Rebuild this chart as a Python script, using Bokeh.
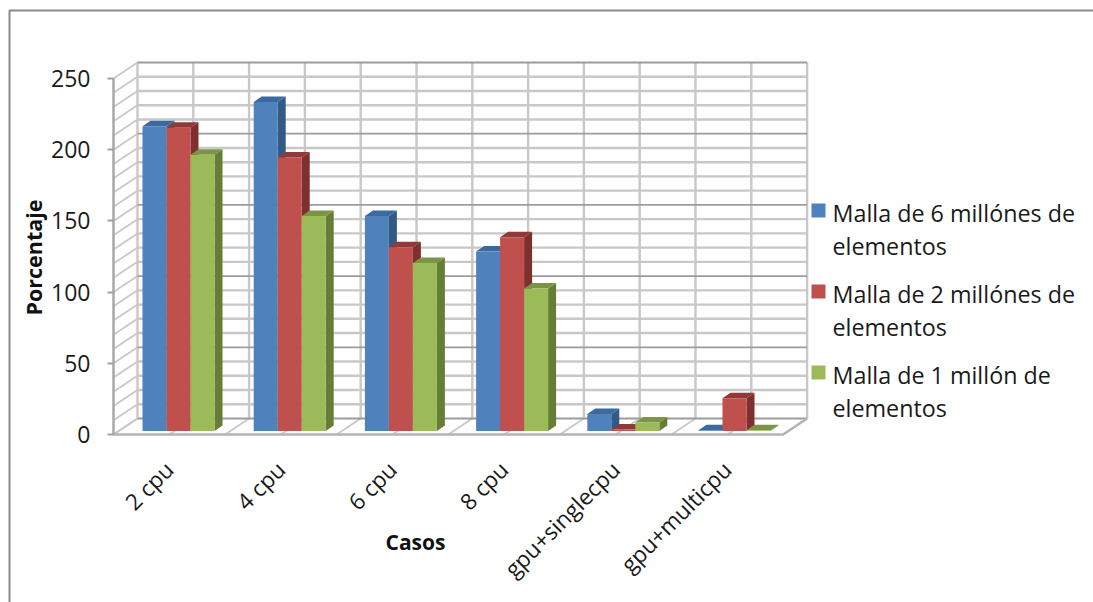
from bokeh.core.properties import value
from bokeh.embed import file_html
from bokeh.models import FixedTicker
from bokeh.plotting import figure
from bokeh.resources import INLINE
import math

# Chart values
categories = ["2 cpu", "4 cpu", "6 cpu", "8 cpu", "gpu+singlecpu", "gpu+multicpu"]
malla_6 = [214, 231, 151, 126, 12, 0.5]
malla_2 = [213, 192, 129, 136, 1, 23]
malla_1 = [194, 151, 118, 100, 6, 0.5]
y_ticks = [0, 50, 100, 150, 200, 250]
legend_lines = [
    ["Malla de 6 millónes de", "elementos"],
    ["Malla de 2 millónes de", "elementos"],
    ["Malla de 1 millón de", "elementos"],
]

# Colours per series: front face, side face, top face
front_colors = ["#4f81bd", "#c0504d", "#9bbb59"]
side_colors = ["#335a85", "#7f2f2d", "#667d35"]
top_colors = ["#3d6a9e", "#8f3a38", "#7b9446"]

# Canvas geometry: the frame fills the page, the origin of the data sits at the front corner
W, H = 1093, 602
ORIGIN_X, ORIGIN_Y = 113, 434
PX_PER_CAT, PX_PER_VAL = 111.6, 1.424


def px(x):
    return (x - ORIGIN_X) / PX_PER_CAT


def py(y):
    return (ORIGIN_Y - y) / PX_PER_VAL


p = figure(
    width=W, height=H, output_backend="svg", toolbar_location=None,
    x_range=(px(0), px(W)), y_range=(py(H), py(0)),
    min_border=0, min_border_left=0, min_border_right=0, min_border_top=0, min_border_bottom=0,
    outline_line_color=None, background_fill_color="white", border_fill_color="white",
)
p.grid.visible = False

# Depth of the box (wall against front edge) and of each bar, in data units
wall_dx, wall_dy = 24 / PX_PER_CAT, 16 / PX_PER_VAL
bar_dx, bar_dy = 8 / PX_PER_CAT, 5.5 / PX_PER_VAL
n = len(categories)
half_steps = [i / 2 for i in range(2 * n + 1)]
minor_vals = list(range(0, 251, 10))

LIGHT, DARK = "#c8c8c8", "#9c9c9c"

# Floor: diagonal lines running back from the front edge
p.segment(half_steps, [0] * len(half_steps),
          [h + wall_dx for h in half_steps], [wall_dy] * len(half_steps),
          line_color=LIGHT, line_width=1.8)

# Left wall: diagonals at every 10 units
p.segment([0] * len(minor_vals), minor_vals,
          [wall_dx] * len(minor_vals), [v + wall_dy for v in minor_vals],
          line_color=LIGHT, line_width=1.8)

# Back wall: verticals, then minor and major horizontals
p.segment([h + wall_dx for h in half_steps], [wall_dy] * len(half_steps),
          [h + wall_dx for h in half_steps], [250 + wall_dy] * len(half_steps),
          line_color=LIGHT, line_width=2.4)
minor_only = [v for v in minor_vals if v % 50 != 0]
p.segment([wall_dx] * len(minor_only), [v + wall_dy for v in minor_only],
          [n + wall_dx] * len(minor_only), [v + wall_dy for v in minor_only],
          line_color=LIGHT, line_width=2.4)
p.segment([wall_dx] * len(y_ticks), [v + wall_dy for v in y_ticks],
          [n + wall_dx] * len(y_ticks), [v + wall_dy for v in y_ticks],
          line_color=DARK, line_width=1.8)

# Floor edges
p.line([0, n, n + wall_dx], [0, 0, wall_dy], line_color="#b4b4b4", line_width=2.5)

# Bars: each one is a front face with a side and a top parallelogram
bar_w = 24 / PX_PER_CAT
bar_step = 111.2 / PX_PER_CAT
first_offset = (142 - ORIGIN_X) / PX_PER_CAT
base = (ORIGIN_Y - 430.5) / PX_PER_VAL
for c in range(n):
    for s, series in enumerate([malla_6, malla_2, malla_1]):
        x0 = c * bar_step + first_offset + s * bar_w
        x1 = x0 + bar_w
        top = series[c] + base
        p.patch([x1, x1 + bar_dx, x1 + bar_dx, x1], [base, base + bar_dy, top + bar_dy, top],
                fill_color=side_colors[s], line_color=None)
        p.patch([x0, x0 + bar_dx, x1 + bar_dx, x1], [top, top + bar_dy, top + bar_dy, top],
                fill_color=top_colors[s], line_color=None)
        p.quad(left=x0, right=x1, bottom=base, top=top,
               fill_color=front_colors[s], line_color=None)

# Value axis, pinned to the front left corner
TICK_FONT = "Open Sans"
yax = p.yaxis[0]
yax.fixed_location = 0
yax.bounds = (0, 250)
yax.ticker = FixedTicker(ticks=y_ticks)
yax.axis_line_color = "#a8a8a8"
yax.axis_line_width = 2.5
yax.major_tick_line_color = "#a0a0a0"
yax.major_tick_line_width = 2
yax.major_tick_in = 0
yax.major_tick_out = 6
yax.minor_tick_line_color = None
yax.major_label_standoff = 17
yax.major_label_text_font = TICK_FONT
yax.major_label_text_font_size = "23px"
yax.major_label_text_color = "#1a1a1a"

# Category axis, labels tilted 45 degrees under the floor
xax = p.xaxis[0]
xax.fixed_location = 0
xax.bounds = (0, n)
xax.ticker = FixedTicker(ticks=[i + 0.5 for i in range(n)])
xax.major_label_overrides = {i + 0.5: name for i, name in enumerate(categories)}
xax.major_label_orientation = math.pi / 4
xax.major_label_standoff = 25
xax.major_label_text_font = TICK_FONT
xax.major_label_text_font_size = "22.5px"
xax.major_label_text_color = "#1a1a1a"
xax.axis_line_color = None
xax.major_tick_line_color = None
xax.minor_tick_line_color = None

# Axis titles
p.text([px(33)], [py(257)], text=["Porcentaje"], angle=math.pi / 2, text_align="center",
       text_baseline="middle", text_font=value(TICK_FONT), text_font_style="bold",
       text_font_size="21.5px", text_color="#111111")
p.text([px(415)], [py(541)], text=["Casos"], text_align="center", text_baseline="middle",
       text_font=value(TICK_FONT), text_font_style="bold", text_font_size="21px",
       text_color="#111111")

# Legend: colour square with a two-line label
for i, lines in enumerate(legend_lines):
    row_y = 212 + i * 81
    p.quad(left=px(811), right=px(825), top=py(row_y - 9), bottom=py(row_y + 5),
           fill_color=front_colors[i], line_color=None)
    for j, line in enumerate(lines):
        p.text([px(832)], [py(row_y + j * 33)], text=[line], text_align="left",
               text_baseline="middle", text_font=value(TICK_FONT),
               text_font_size="23.3px", text_color="#1a1a1a")

# Thin frame along the left and top of the page
p.line([px(9), px(9), px(W)], [py(H), py(10), py(10)], line_color="#8a8a8a", line_width=2)

open("out.html", "w").write(file_html(p, INLINE))
